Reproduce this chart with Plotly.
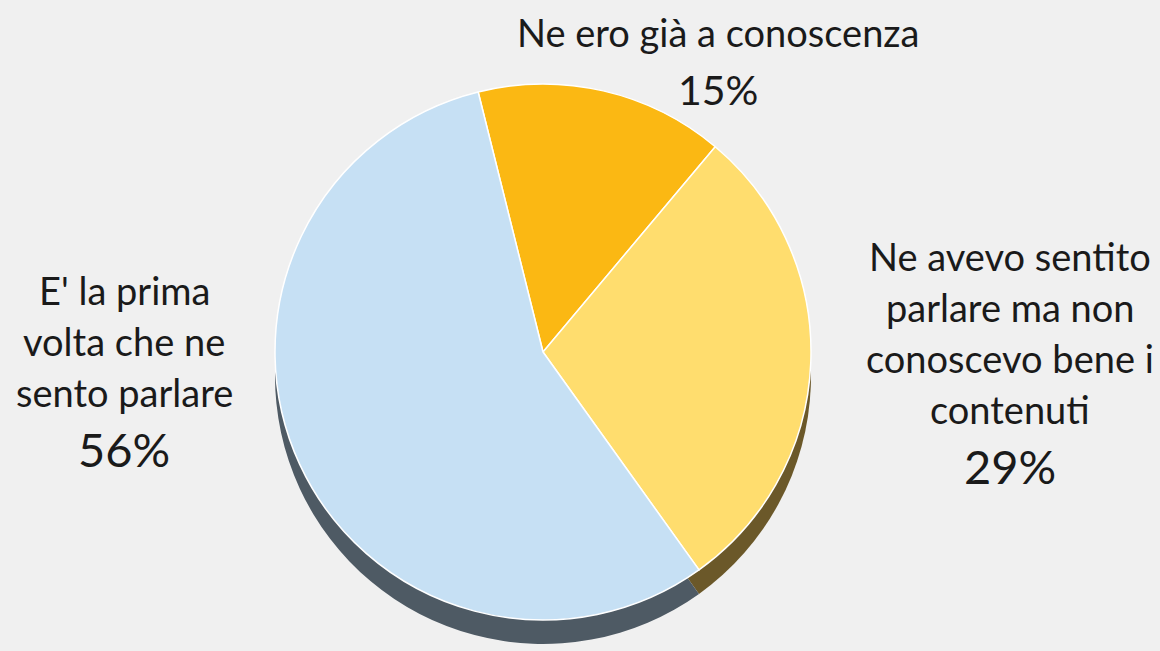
import plotly.graph_objects as go

# ---- data ----
labels = ["Ne ero già a conoscenza",
          "Ne avevo sentito<br>parlare ma non<br>conoscevo bene i<br>contenuti",
          "E' la prima<br>volta che ne<br>sento parlare"]
values = [15, 29, 56]
top_colors = ["#FBB813", "#FFDD6E", "#C6E0F4"]
side_colors = ["#8A6A10", "#6B5829", "#4E5A64"]

W, H = 1160, 651
cx, cy, r = 543, 352, 268
depth = 24

def dom(cx, cy, r):
    return dict(x=[(cx - r) / W, (cx + r) / W], y=[1 - (cy + r) / H, 1 - (cy - r) / H])

fig = go.Figure()
# side (3D depth) layer
fig.add_trace(go.Pie(labels=labels, values=values, sort=False, direction="clockwise",
                     rotation=-14, textinfo="none", hoverinfo="skip",
                     marker=dict(colors=side_colors, line=dict(color="#F0F0F0", width=0)),
                     domain=dom(cx, cy + depth, r), showlegend=False))
# top face
fig.add_trace(go.Pie(labels=labels, values=values, sort=False, direction="clockwise",
                     rotation=-14, textinfo="none",
                     marker=dict(colors=top_colors, line=dict(color="white", width=1.5)),
                     domain=dom(cx, cy, r), showlegend=False))

# label anchors (pixel coords of first line center)
anchors = [(718, 32), (1010, 256), (124, 290)]
pct_sizes = [41, 47, 47]
total = sum(values)
annotations = []
font_family = "Lato, Open Sans, sans-serif"
for i, lab in enumerate(labels):
    lines = lab.split("<br>")
    x0, y0 = anchors[i]
    for j, ln in enumerate(lines):
        y = y0 + j * 51
        annotations.append(dict(text=ln, x=x0 / W, y=1 - y / H, xref="paper", yref="paper",
                                showarrow=False, xanchor="center", yanchor="middle",
                                font=dict(family=font_family, size=38, color="#1A1A1A")))
    pct = f"{round(values[i] / total * 100)}%"
    y = y0 + len(lines) * 51 + 6
    annotations.append(dict(text=pct, x=x0 / W, y=1 - y / H, xref="paper", yref="paper",
                            showarrow=False, xanchor="center", yanchor="middle",
                            font=dict(family=font_family, size=pct_sizes[i], color="#1A1A1A")))

fig.update_layout(width=W, height=H, margin=dict(l=0, r=0, t=0, b=0),
                  paper_bgcolor="#F0F0F0", plot_bgcolor="#F0F0F0",
                  annotations=annotations)
fig.write_html("out.html", config={"displayModeBar": False},
               post_script="document.body.style.margin='0';document.body.style.background='#F0F0F0';")
